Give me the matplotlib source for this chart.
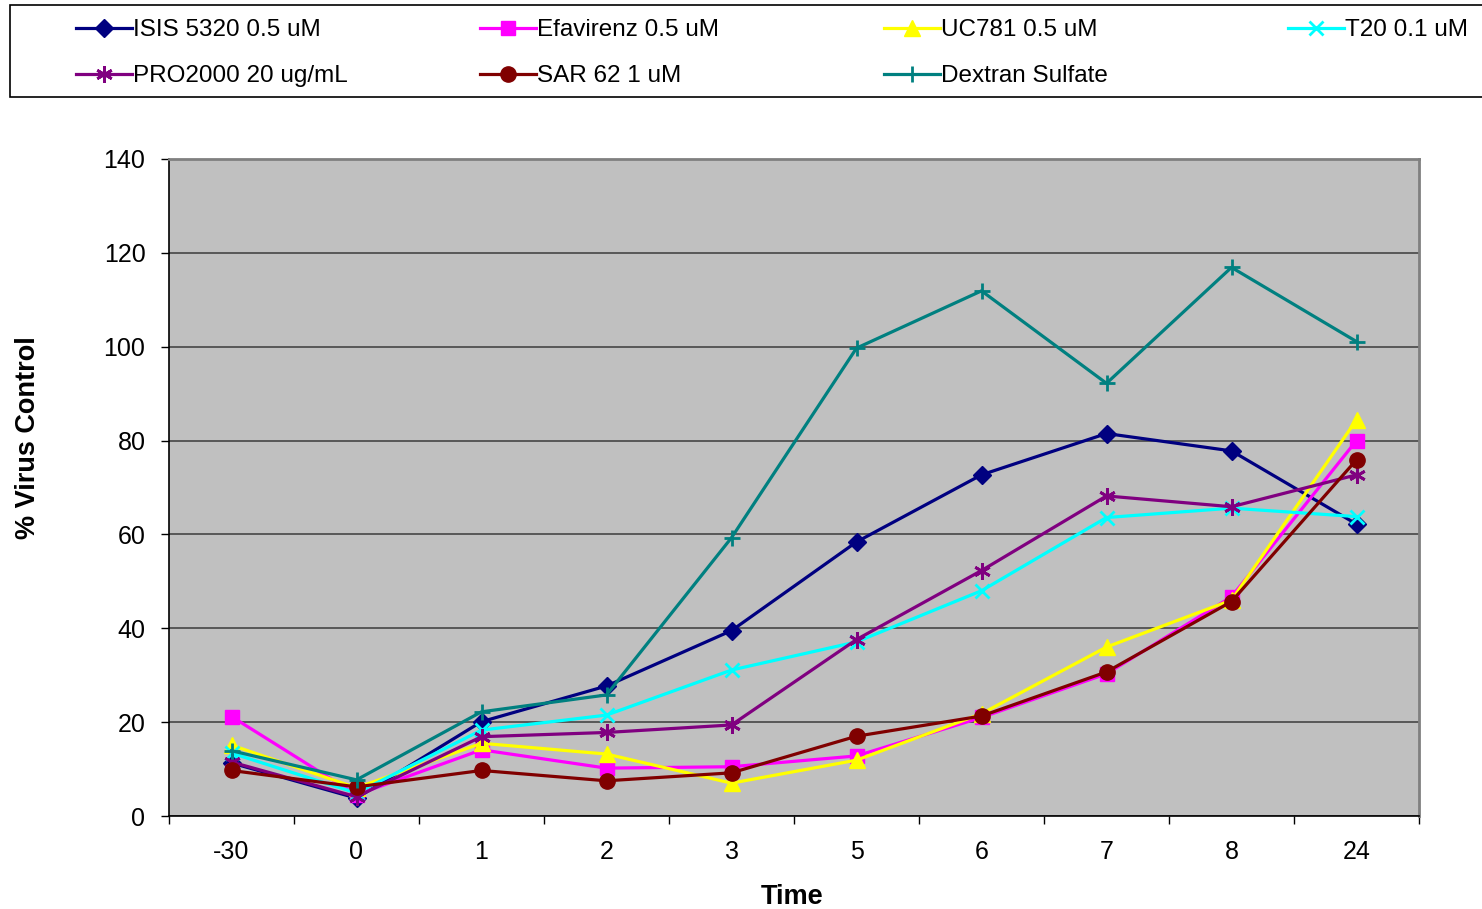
import matplotlib.pyplot as plt
from matplotlib.patches import Rectangle
from matplotlib.lines import Line2D

plt.rcParams['font.family'] = ['Liberation Sans', 'DejaVu Sans']

# 時間ポイント（カテゴリ軸）
time_labels = ["-30", "0", "1", "2", "3", "5", "6", "7", "8", "24"]

isis = [11.3, 3.8, 20.1, 27.7, 39.5, 58.4, 72.7, 81.5, 77.8, 62.2]
efavirenz = [21.2, 4.5, 14.1, 10.2, 10.5, 12.8, 21.0, 30.3, 46.7, 80.0]
uc781 = [15.1, 6.0, 15.5, 13.2, 7.0, 11.9, 21.8, 36.0, 46.0, 84.4]
t20 = [13.4, 4.9, 18.3, 21.5, 31.1, 37.1, 48.0, 63.6, 65.6, 63.8]
pro2000 = [11.5, 4.1, 16.9, 17.8, 19.4, 37.6, 52.3, 68.2, 65.9, 72.7]
sar62 = [9.7, 6.2, 9.7, 7.5, 9.2, 17.0, 21.3, 30.7, 45.7, 75.9]
dextran = [13.9, 7.7, 22.2, 25.8, 59.3, 99.7, 111.9, 92.2, 116.9, 101.1]

series = [
    ("ISIS 5320 0.5 uM", isis, "#000080", "D", 9),
    ("Efavirenz 0.5 uM", efavirenz, "#FF00FF", "s", 10),
    ("UC781 0.5 uM", uc781, "#FFFF00", "^", 11),
    ("T20 0.1 uM", t20, "#00FFFF", "x", 10),
    ("PRO2000 20 ug/mL", pro2000, "#800080", (6, 2, 0), 12),
    ("SAR 62 1 uM", sar62, "#800000", "o", 11),
    ("Dextran Sulfate", dextran, "#008080", "+", 12),
]

W, H = 1482, 909
fig = plt.figure(figsize=(W / 100, H / 100), dpi=100)
ax = fig.add_axes([169 / W, 1 - 816 / H, 1250 / W, 657 / H])
ax.set_facecolor("#C0C0C0")

x = list(range(len(time_labels)))
handles = []
for name, vals, col, mk, ms in series:
    mew = 2 if mk in ("x", "+") or isinstance(mk, tuple) else 1
    h, = ax.plot(x, vals, color=col, lw=2.3, marker=mk, markersize=ms,
                 markerfacecolor=col, markeredgecolor=col, markeredgewidth=mew,
                 label=name)
    handles.append(h)

ax.set_xlim(-0.5, len(time_labels) - 0.5)
ax.set_ylim(0, 140)
ax.set_yticks(range(0, 141, 20))
ax.yaxis.grid(True, color="#505050", lw=1.3)
ax.set_axisbelow(True)

ax.set_xticks(x)
ax.set_xticklabels(time_labels)
ax.set_xticks([i - 0.5 for i in range(len(time_labels) + 1)], minor=True)
ax.tick_params(axis="x", which="major", length=0, pad=17, labelsize=18)
ax.tick_params(axis="x", which="minor", length=6, width=1, color="black")
ax.tick_params(axis="y", length=6, width=1, pad=11, labelsize=18)

for s in ("top", "right"):
    ax.spines[s].set_color("#808080")
    ax.spines[s].set_linewidth(2)
for s in ("left", "bottom"):
    ax.spines[s].set_color("black")
    ax.spines[s].set_linewidth(1.2)

fig.text(28 / W, 1 - 438 / H, "% Virus Control", rotation=90,
         ha="center", va="center", fontsize=19.5, fontweight="bold")
fig.text(792 / W, 1 - 897 / H, "Time", ha="center", va="center",
         fontsize=19.5, fontweight="bold")

# 凡例の枠
frame = Rectangle((10 / W, 1 - 97 / H), 1480 / W, 92 / H,
                  transform=fig.transFigure, facecolor="white",
                  edgecolor="black", lw=1.2)
fig.patches.append(frame)

# 凡例は列ごとに配置
columns = [[0, 4], [1, 5], [2, 6], [3]]
col_x = [76, 480, 884, 1288]
for idxs, cx in zip(columns, col_x):
    hs = [Line2D([], [], color=handles[i].get_color(), lw=2.3,
                 marker=handles[i].get_marker(),
                 markersize=handles[i].get_markersize(),
                 markerfacecolor=handles[i].get_color(),
                 markeredgecolor=handles[i].get_color(),
                 markeredgewidth=handles[i].get_markeredgewidth())
          for i in idxs]
    labels = [series[i][0] for i in idxs]
    fig.legend(hs, labels, loc="upper left",
               bbox_to_anchor=(cx / W, 1 - 19 / H), frameon=False,
               fontsize=17.5, handlelength=2.3, handletextpad=0.05,
               labelspacing=0.99, borderpad=0, borderaxespad=0, numpoints=1)

plt.savefig("out.png", dpi=100)
